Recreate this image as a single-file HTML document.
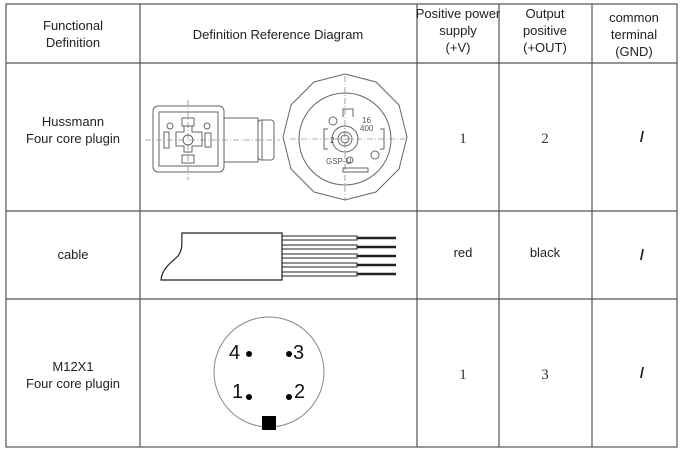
<!DOCTYPE html>
<html><head><meta charset="utf-8"><style>
body{margin:0;background:#fff;}
svg{display:block;}
.h{font-family:"Liberation Sans",sans-serif;font-size:13px;fill:#222;}
.s{font-family:"Liberation Serif",serif;font-size:15px;fill:#333;}
.sl{font-family:"Liberation Sans",sans-serif;font-size:15px;font-weight:bold;fill:#222;}
</style></head><body>
<svg width="682" height="451" viewBox="0 0 682 451" xmlns="http://www.w3.org/2000/svg">
<g stroke="#555" stroke-width="1.2" fill="none">
<rect x="6" y="4" width="671" height="443"/>
<line x1="140" y1="4" x2="140" y2="447"/>
<line x1="417" y1="4" x2="417" y2="447"/>
<line x1="499" y1="4" x2="499" y2="447"/>
<line x1="592" y1="4" x2="592" y2="447"/>
<line x1="6" y1="63" x2="677" y2="63"/>
<line x1="6" y1="211" x2="677" y2="211"/>
<line x1="6" y1="299" x2="677" y2="299"/>
</g>
<g class="h" text-anchor="middle">
<text x="73" y="30">Functional</text><text x="73" y="47">Definition</text>
<text x="278" y="39">Definition Reference Diagram</text>
<text x="458" y="18">Positive power</text><text x="458" y="35">supply</text><text x="458" y="52">(+V)</text>
<text x="545" y="18">Output</text><text x="545" y="35">positive</text><text x="545" y="52">(+OUT)</text>
<text x="634" y="22">common</text><text x="634" y="39">terminal</text><text x="634" y="56">(GND)</text>
<text x="73" y="126">Hussmann</text><text x="73" y="143">Four core plugin</text>
<text x="73" y="259">cable</text>
<text x="73" y="371">M12X1</text><text x="73" y="388">Four core plugin</text>
<text x="463" y="257">red</text><text x="545" y="257">black</text>
</g>
<g class="s" text-anchor="middle">
<text x="463" y="143">1</text><text x="545" y="143">2</text>
<text x="463" y="379">1</text><text x="545" y="379">3</text>
</g>
<g class="sl" text-anchor="middle">
<text x="642" y="142">/</text>
<text x="642" y="260">/</text>
<text x="642" y="378">/</text>
</g>
<!-- Hussmann left -->
<g stroke="#666" fill="none" stroke-width="1">
<rect x="153" y="106" width="71" height="66" rx="5"/>
<rect x="159" y="112" width="59" height="54"/>
<rect x="224" y="118" width="34" height="44"/>
<rect x="258" y="120" width="16" height="40" rx="3"/>
<line x1="262" y1="120" x2="262" y2="160"/>
<line x1="145" y1="140" x2="280" y2="140" stroke-dasharray="6,2,1,2" stroke-width="0.6"/>
<line x1="188" y1="100" x2="188" y2="180" stroke-dasharray="6,2,1,2" stroke-width="0.6"/>
<circle cx="188" cy="140" r="5"/>
<rect x="182" y="118" width="12" height="8"/><rect x="182" y="155" width="12" height="8"/>
<rect x="164" y="132" width="5" height="16"/><rect x="205" y="133" width="6" height="14"/>
<path d="M176 132h8v-6h8v6h10v14h-10v6h-8v-6h-8z"/>
<circle cx="207" cy="126" r="3"/><circle cx="170" cy="126" r="3"/>
</g>
<!-- Hussmann right -->
<g stroke="#666" fill="none" stroke-width="1">
<polygon points="345,74 376,82 399,105 407,137 399,169 376,192 345,200 314,192 291,169 283,137 291,105 314,82"/>
<circle cx="345" cy="139" r="46"/>
<circle cx="345" cy="139" r="13"/><circle cx="345" cy="139" r="7"/><circle cx="345" cy="139" r="4"/>
<line x1="290" y1="139" x2="405" y2="139" stroke-dasharray="6,2,1,2" stroke-width="0.6"/>
<line x1="345" y1="76" x2="345" y2="200" stroke-dasharray="6,2,1,2" stroke-width="0.6"/>
<path d="M343 117v-8h10v8"/><path d="M328 129h-4v20h4"/><path d="M380 129h4v20h-4"/>
<rect x="343" y="168" width="25" height="4"/>
<circle cx="333" cy="121" r="4"/><circle cx="375" cy="155" r="4"/><circle cx="350" cy="160" r="3"/>
</g>
<g font-family="Liberation Sans,sans-serif" font-size="8" fill="#555">
<text x="362" y="123">16</text><text x="360" y="131">400</text>
<text x="330" y="143">2</text><text x="326" y="164">GSP-U</text>
</g>
<!-- cable -->
<g stroke="#222" fill="none" stroke-width="1.2">
<path d="M182 233H282V280H161C162 268 172 262 178 256C184 248 181 240 182 233Z" fill="#fff"/>
<g stroke-width="1">
<path d="M282 236h75v4h-75M282 245h75v4h-75M282 254h75v4h-75M282 263h75v4h-75M282 272h75v4h-75"/>
</g>
<g stroke-width="2.5">
<line x1="357" y1="238" x2="396" y2="238"/><line x1="357" y1="247" x2="396" y2="247"/>
<line x1="357" y1="256" x2="396" y2="256"/><line x1="357" y1="265" x2="396" y2="265"/>
<line x1="357" y1="274" x2="396" y2="274"/>
</g>
</g>
<!-- M12 -->
<circle cx="269" cy="372" r="55" stroke="#888" fill="none" stroke-width="1"/>
<g fill="#000">
<circle cx="249" cy="354" r="3"/><circle cx="289" cy="354" r="3"/>
<circle cx="249" cy="397" r="3"/><circle cx="289" cy="397" r="3"/>
<rect x="262" y="416" width="14" height="14"/>
</g>
<g font-family="Liberation Sans,sans-serif" font-size="20" fill="#111">
<text x="229" y="359">4</text><text x="293" y="359">3</text>
<text x="232" y="398">1</text><text x="294" y="398">2</text>
</g>
</svg>
</body></html>
